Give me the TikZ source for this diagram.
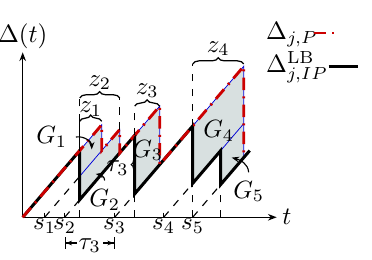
\documentclass[tikz,border=0pt]{standalone}
\usepackage{amsmath}
\usepackage{amssymb}
\usepackage{xcolor}
\usepackage{tikz}
\usetikzlibrary{arrows.meta,positioning,calc,decorations.pathreplacing}
\definecolor{aoired}{RGB}{204,0,0}
\definecolor{gapgray}{RGB}{216,224,224}

\begin{document}
\begin{tikzpicture}[x=0.4pt,y=0.468pt,
        axis/.style={-{Stealth[length=3.5pt]},line width=0.6pt},
        gap/.style={fill=gapgray,draw=blue!85!black,line width=0.3pt},
        lb/.style={line width=1.2pt,black},
        peak/.style={line width=1.15pt,aoired,dash pattern=on 5pt off 2.5pt on 0.8pt off 2.5pt},
        gen/.style={dashed,line width=0.45pt},
        zbrace/.style={decorate,decoration={brace,amplitude=2.5pt},line width=0.5pt},
        zlabel/.style={above=2.5pt,inner sep=0.5pt},
        pointer/.style={-{Stealth[length=3pt]},line width=0.45pt}
    ]
        \useasboundingbox (-22.7,-36.5) rectangle (349.3,185.7);
        % shaded gaps between the two ages
        \draw[gap] (57,15) -- (57,57) -- (79,79) -- (79,57) -- (97,75) -- (97,55) -- cycle;
        \draw[gap] (112,20) -- (112,70) -- (137,95) -- (137,45) -- cycle;
        \draw[gap] (170,29) -- (170,78) -- (221,129) -- (221,51) -- (198,28) -- (198,57) -- cycle;
        \draw[blue!85!black,line width=0.3pt] (57,35) -- (79,57);
        \draw[blue!85!black,line width=0.3pt] (198,57) -- (221,80);
        % axes and generation times
        \draw[axis] (0,0) -- (254,0) node[right,inner sep=2pt] {$t$};
        \draw[axis] (0,0) -- (0,141) node[above,inner sep=1pt] {$\Delta(t)$};
        \foreach \s/\n in {22/1,42/2,92/3,141/4,170/5}
            \draw[line width=0.45pt] (\s,4) -- (\s,0) node[below,inner sep=0.5pt] (s\n) {$s_{\n}$};
        \draw[gen] (22,0) -- (57,35);
        \draw[gen] (42,0) -- (57,15);
        \draw[gen] (92,0) -- (112,20);
        \draw[gen] (141,0) -- (170,29);
        \draw[gen] (170,0) -- (198,28);
        \foreach \x/\h in {57/15,112/20,170/29,198/28}
            \draw[gen] (\x,0) -- (\x,\h);
        % lower bound and age
        \draw[lb] (0,0) -- (57,57) -- (57,15) -- (112,70) -- (112,20) -- (170,78)
            -- (170,29) -- (198,57) -- (198,28) -- (227,57);
        \draw[peak] (0,0) -- (79,79) -- (79,57) -- (97,75) -- (97,55) -- (137,95)
            -- (137,45) -- (221,129) -- (221,51);
        % intervals
        \draw[line width=0.45pt] (57,57) -- (57,82);
        \draw[gen] (57,82) -- (57,102);
        \draw[gen] (97,75) -- (97,102);
        \draw[gen] (112,70) -- (112,95);
        \draw[gen] (170,78) -- (170,131);
        \draw[zbrace] (57,82) -- node[zlabel,above=1.2pt] {$z_1$} (79,82);
        \draw[zbrace] (57,102) -- node[zlabel] {$z_2$} (97,102);
        \draw[zbrace] (112,95) -- node[zlabel] {$z_3$} (137,95);
        \draw[zbrace] (170,131) -- node[zlabel] {$z_4$} (221,131);
        \draw[decorate,decoration={brace,amplitude=2pt},line width=0.45pt]
            (113.5,20) -- node[left=-0.5pt,yshift=-1.5pt] {$\tau_3$} (113.5,70);
        \draw[{Bar[width=4.5pt]Stealth[length=2.5pt]}-{Stealth[length=2.5pt]Bar[width=4.5pt]},line width=0.45pt]
            (42,-22) -- node[fill=white,inner sep=0.8pt,yshift=-1pt] {$\tau_3$} (92,-22);
        % gap labels
        \node (g1) at (29,68.6) {$G_1$};
        \node (g2) at (82,15) {$G_2$};
        \node (g3) at (125,57) {$G_3$};
        \node (g4) at (196,74) {$G_4$};
        \node (g5) at (226,22) {$G_5$};
        \draw[pointer] (g1.east) to[out=10,in=90] (69,58);
        \draw[pointer] (g2.north) to[out=90,in=-10] (73,37);
        \draw[pointer] (g5.north) to[out=95,in=-15] (209,51);
        % legend
        \node[anchor=west,inner sep=0pt] (legP) at (243,156) {$\Delta_{j,P}$};
        \node[anchor=west,inner sep=0pt] (legLB) at (243,128.5) {$\Delta^{\mathrm{LB}}_{j,IP}$};
        \coordinate (legPstart) at (291,157.5);
        \coordinate (legPend) at (318,157.5);
        \coordinate (legLBend) at ($(legLB.east)+(29,0)$);
        \draw[peak] (legPstart) -- (legPend);
        \draw[lb] (legLB.east) -- (legLBend);
\end{tikzpicture}
\end{document}
